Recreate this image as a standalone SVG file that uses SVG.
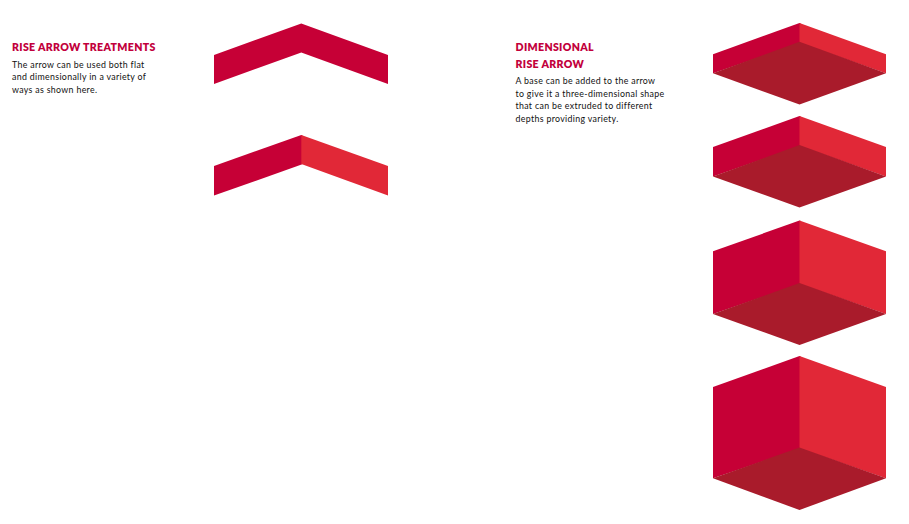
<svg xmlns="http://www.w3.org/2000/svg" width="909" height="524" viewBox="0 0 909 524">
<style>
.a{fill:#c60036}.b{fill:#e12837}.c{fill:#a91b2b}
.h{font:800 10.6px Lato,"Liberation Sans",sans-serif;fill:#c2003c;letter-spacing:.32px}
.t{font:400 8.8px Lato,"Liberation Sans",sans-serif;fill:#111;letter-spacing:.33px}
</style>
<rect width="909" height="524" fill="#fff"/>
<g id="text-treatments">
<text class="h" x="12" y="51">RISE ARROW TREATMENTS</text>
<text class="t" x="12" y="68">The arrow can be used both flat</text>
<text class="t" x="12" y="80">and dimensionally in a variety of</text>
<text class="t" x="12" y="93">ways as shown here.</text>
</g>
<g id="text-dimensional">
<text class="h" x="515.500" y="51">DIMENSIONAL</text>
<text class="h" x="515.500" y="68">RISE ARROW</text>
<text class="t" x="515.500" y="84">A base can be added to the arrow</text>
<text class="t" x="515.500" y="97">to give it a three-dimensional shape</text>
<text class="t" x="515.500" y="109">that can be extruded to different</text>
<text class="t" x="515.500" y="122">depths providing variety.</text>
</g>
<g id="arrow-flat">
<polygon class="a" points="301.300,23.500 388,55 388,84 301.300,52.500 214,84 214,55"/>
</g>
<g id="arrow-two-tone">
<polygon class="a" points="301.300,135 302.300,135.360 302.300,164.360 214,195.500 214,166"/>
<polygon class="b" points="301.300,135 388,166 388,195.500 301.300,164"/>
</g>
<g id="solid-1">
<polygon class="a" points="799.500,23 800.500,23.360 800.500,43 713,73.300 713,54.300"/>
<polygon class="b" points="799.500,23 886,54.300 886,73.300 799.500,43"/>
<polygon class="c" points="799.500,41.700 886,73.300 799.500,104.500 713,73.300"/>
</g>
<g id="solid-2">
<polygon class="a" points="799.500,116 800.500,116.360 800.500,146 713,176.500 713,147"/>
<polygon class="b" points="799.500,116 886,147 886,176.500 799.500,146"/>
<polygon class="c" points="799.500,145 886,176.500 799.500,207.500 713,176.500"/>
</g>
<g id="solid-3">
<polygon class="a" points="799.500,220.500 800.500,220.860 800.500,284 713,314 713,251.300"/>
<polygon class="b" points="799.500,220.500 886,251.300 886,314 799.500,284"/>
<polygon class="c" points="799.500,283 886,314 799.500,345 713,314"/>
</g>
<g id="solid-4">
<polygon class="a" points="799.500,356 800.500,356.360 800.500,448.500 713,478.300 713,387"/>
<polygon class="b" points="799.500,356 886,387 886,478.300 799.500,448.500"/>
<polygon class="c" points="799.500,447.500 886,478.300 799.500,510 713,478.300"/>
</g>
</svg>
